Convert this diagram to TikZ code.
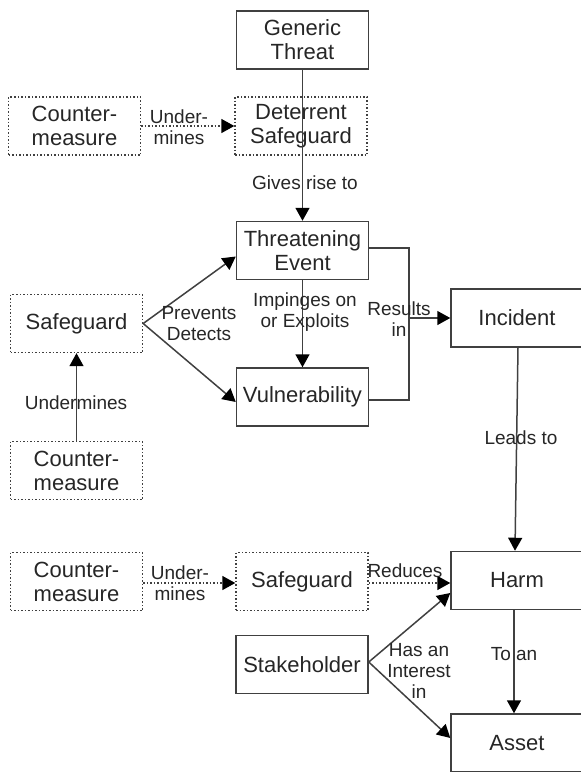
\documentclass[tikz,border=0pt]{standalone}
\usepackage{fontspec}
\setmainfont{Liberation Sans}
\usetikzlibrary{arrows.meta}
\begin{document}
\begin{tikzpicture}[x=1pt,y=-1pt,
  box/.style={draw=black!75,line width=1.5pt,minimum width=132pt,minimum height=58pt,inner sep=0pt,align=center,font=\fontsize{22}{24}\selectfont,text=black!85},
  dbox/.style={box,dotted,line width=1.4pt},
  lbl/.style={font=\fontsize{19}{21}\selectfont,align=center,text=black!85,inner sep=0pt},
  conn/.style={draw=black!75,line width=1.5pt},
  arr/.style={conn,-{Triangle[length=13pt,width=14pt,color=black]}},
  darr/.style={arr,dotted}]
\useasboundingbox (0,0) rectangle (581,772);
\begin{scope}
\clip (0,0) rectangle (581,772);
% nodes
\node[box] (gt) at (302.5,40) {Generic\\Threat};
\node[dbox] (cm1) at (74.5,126) {Counter-\\measure};
\node[dbox] (ds) at (301,126) {Deterrent\\Safeguard};
\node[box] (te) at (302.5,250.5) {Threatening\\Event};
\node[box] (vu) at (302.5,397) {Vulnerability};
\node[dbox] (sg1) at (76.5,323.5) {Safeguard};
\node[dbox] (cm2) at (76.5,470.5) {Counter-\\measure};
\node[box] (inc) at (517,318) {Incident};
\node[dbox] (cm3) at (76.5,581.5) {Counter-\\measure};
\node[dbox] (sg3) at (302,581.5) {Safeguard};
\node[box] (harm) at (517,580.5) {Harm};
\node[box] (stk) at (302,664.5) {Stakeholder};
\node[box] (asset) at (517,743) {Asset};
% connectors
\draw[arr] (gt.south) -- (te.north);
\node[lbl] (l1) at (305,183) {Gives rise to};
\draw[darr] (cm1.east) -- (ds.west);
\node[lbl] (l2) at (179,127) {Under-\\mines};
\draw[arr] (te.south) -- (vu.north);
\node[lbl] (l3) at (305,312) {Impinges on\\or Exploits};
\draw[arr] (sg1.east) -- ([yshift=-6pt]te.west);
\draw[arr] (sg1.east) -- ([yshift=-5pt]vu.west);
\node[lbl] (l4) at (199,324) {Prevents\\Detects};
\draw[arr] (cm2.north) -- (sg1.south);
\node[lbl] (l5) at (76,403) {Undermines};
\coordinate (j1) at (409,248);
\coordinate (j2) at (409,400);
\coordinate (j3) at (409,318);
\draw[conn] (j1 -| te.east) -- (j1) -- (j2) -- (j2 -| vu.east);
\draw[arr] (j3) -- (inc.west);
\node[lbl] (l6) at (399,319) {Results\\in};
\draw[arr] ([xshift=1pt]inc.south) -- ([xshift=-2pt]harm.north);
\node[lbl] (l7) at (521,438) {Leads to};
\draw[darr] ([yshift=-1.5pt]cm3.east) -- ([yshift=-1.5pt]sg3.west);
\node[lbl] (l8) at (180,583) {Under-\\mines};
\draw[darr] ([yshift=-1.5pt]sg3.east) -- ([yshift=-2.5pt]harm.west);
\node[lbl] (l9) at (405,571) {Reduces};
\draw[arr] ([yshift=2.5pt]stk.east) -- ([yshift=-12.5pt]harm.west);
\draw[arr] ([yshift=2.5pt]stk.east) -- ([yshift=5pt]asset.west);
\node[lbl] (l10) at (419,671) {Has an\\Interest\\in};
\draw[arr] ([xshift=-3pt]harm.south) -- ([xshift=-3pt]asset.north);
\node[lbl] (l11) at (514,654) {To an};
\end{scope}
\end{tikzpicture}
\end{document}
